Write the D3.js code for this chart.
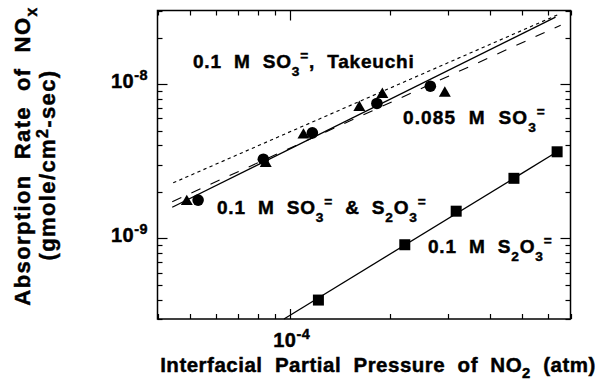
<!DOCTYPE html>
<html><head><meta charset="utf-8">
<script src="https://cdn.jsdelivr.net/npm/d3@7"></script>
<style>
body{margin:0;background:#fff}
svg{display:block}
text{font-family:"Liberation Sans",Arial,Helvetica,sans-serif;font-weight:bold;fill:#000;stroke:#000;stroke-width:0.45px;white-space:pre}
</style>
</head><body>
<svg id="chart" width="602" height="381"></svg>
<script>
// NOx absorption rate vs. interfacial NO2 partial pressure (log–log)

// 0.1 M sulfite + thiosulfate (circles)
const circleP    = [5.30e-5, 8.33e-5, 1.17e-4, 1.83e-4, 2.65e-4];
const circleRate = [1.77e-9, 3.26e-9, 4.83e-9, 7.49e-9, 9.69e-9];
// 0.085 M sulfite (triangles)
const triP    = [4.90e-5, 8.47e-5, 1.10e-4, 1.62e-4, 1.90e-4, 2.93e-4];
const triRate = [1.73e-9, 3.06e-9, 4.67e-9, 7.05e-9, 8.57e-9, 8.73e-9];
// 0.1 M thiosulfate (squares)
const squareP    = [1.22e-4, 2.22e-4, 3.17e-4, 4.73e-4, 6.38e-4];
const squareRate = [3.98e-10, 9.09e-10, 1.50e-9, 2.45e-9, 3.64e-9];

// correlation lines, end points as [pressure, rate]
const lineSulfiteThio = [[4.43e-5, 1.59e-9], [6.31e-4, 2.72e-8]];
const lineSulfite     = [[4.43e-5, 1.73e-9], [6.54e-4, 2.41e-8]];
const lineTakeuchi    = [[4.46e-5, 2.29e-9], [6.52e-4, 2.86e-8]];
const lineThio        = [[9.61e-5, 3.00e-10], [6.38e-4, 3.64e-9]];

const xDomain = [4e-5, 7e-4];
const yDomain = [3e-10, 3e-8];
const xTickExp = [-4];
const yTickExp = [-9, -8];

const svg = d3.select("#chart");
const L = 157.5, R = 570.5, T = 10.5, B = 319;
const x = d3.scaleLog().domain(xDomain).range([L, R]);
const y = d3.scaleLog().domain(yDomain).range([B, T]);

const isMajor = v => Math.abs(Math.log10(v) - Math.round(Math.log10(v))) < 1e-6;
const xTicks = x.ticks();
const yTicks = y.ticks();

// frame ticks, pointing inward on all four sides
const axG = svg.append("g").attr("stroke", "#000").attr("stroke-width", 1.2);
xTicks.forEach(v => {
  const len = isMajor(v) ? 10 : 5;
  const px = Math.round(x(v)) + 0.5;
  axG.append("line").attr("x1", px).attr("x2", px).attr("y1", B).attr("y2", B - len);
  axG.append("line").attr("x1", px).attr("x2", px).attr("y1", T).attr("y2", T + len);
});
yTicks.forEach(v => {
  const len = isMajor(v) ? 10 : 5;
  const py = Math.round(y(v)) + 0.5;
  axG.append("line").attr("y1", py).attr("y2", py).attr("x1", L).attr("x2", L + len);
  axG.append("line").attr("y1", py).attr("y2", py).attr("x1", R).attr("x2", R - len);
});
svg.append("rect").attr("x", L).attr("y", T).attr("width", R - L).attr("height", B - T)
  .attr("fill", "none").attr("stroke", "#000").attr("stroke-width", 1.5);

// text with sub/superscript parts
function rich(g, px, py, parts, size, anchor, spacing, shift) {
  const k = shift || 0.42;
  const t = g.append("text").attr("x", px).attr("y", py)
    .attr("font-size", size).attr("text-anchor", anchor || "start")
    .style("letter-spacing", (spacing || 0) + "px");
  let cur = 0;
  parts.forEach(p => {
    const [s, kind] = Array.isArray(p) ? p : [p, null];
    const off = kind === "sub" ? k * size : kind === "sup" ? -k * size : 0;
    t.append("tspan").attr("dy", off - cur).attr("font-size", kind ? size * 0.72 : size).text(s);
    cur = off;
  });
  return t;
}

// tick labels
xTickExp.forEach(e => {
  rich(svg, x(Math.pow(10, e)) + 2, 347, ["10", ["-" + Math.abs(e), "sup"]], 20, "middle", 0.5);
});
yTickExp.forEach(e => {
  rich(svg, 148, y(Math.pow(10, e)) + 4, ["10", ["-" + Math.abs(e), "sup"]], 20, "end", 0.5);
});

// axis titles
rich(svg, 378, 372, ["Interfacial  Partial  Pressure  of  NO", ["2", "sub"], "  (atm)"], 20.5, "middle", 0.5, 0.3);
const yt = svg.append("g");
rich(yt, 0, 0, ["Absorption  Rate  of  NO", ["x", "sub"]], 22, "middle", 1.4, 0.3)
  .attr("transform", "translate(30,156) rotate(-90)");
rich(yt, 0, 0, ["(gmole/cm", ["2", "sup"], "-sec)"], 22, "middle", 1.4, 0.3)
  .attr("transform", "translate(55,165) rotate(-90)");

// correlation lines
const line = d3.line().x(d => x(d[0])).y(d => y(d[1]));
const lg = svg.append("g").attr("fill", "none").attr("stroke", "#000");
lg.append("path").datum(lineTakeuchi).attr("d", line).attr("stroke-width", 1.1).attr("stroke-dasharray", "3.3,3.3");
lg.append("path").datum(lineSulfite).attr("d", line).attr("stroke-width", 1.1).attr("stroke-dasharray", "10,11");
lg.append("path").datum(lineSulfiteThio).attr("d", line).attr("stroke-width", 1.3);
lg.append("path").datum(lineThio).attr("d", line).attr("stroke-width", 1.3);

// markers
const mg = svg.append("g").attr("fill", "#000");
mg.selectAll("circle").data(d3.zip(circleP, circleRate)).join("circle")
  .attr("cx", d => x(d[0])).attr("cy", d => y(d[1])).attr("r", 5.8);
const tri = d3.symbol().type(d3.symbolTriangle).size(62);
mg.selectAll("path.tri").data(d3.zip(triP, triRate)).join("path").attr("class", "tri")
  .attr("d", tri).attr("transform", d => `translate(${x(d[0])},${y(d[1])})`);
mg.selectAll("rect.sq").data(d3.zip(squareP, squareRate)).join("rect").attr("class", "sq")
  .attr("x", d => x(d[0]) - 5.5).attr("y", d => y(d[1]) - 5.5).attr("width", 11).attr("height", 11);

// series labels
const lab = svg.append("g");
rich(lab, 193, 68, ["0.1  M  SO", ["3", "sub"], ["=", "sup"], ",  Takeuchi"], 19, "start", 0.8);
rich(lab, 403, 124, ["0.085  M  SO", ["3", "sub"], ["=", "sup"]], 19, "start", 1.1);
rich(lab, 217, 214, ["0.1  M  SO", ["3", "sub"], ["=", "sup"], "  &  S", ["2", "sub"], "O", ["3", "sub"], ["=", "sup"]], 19, "start", 0.8);
rich(lab, 428, 253, ["0.1  M  S", ["2", "sub"], "O", ["3", "sub"], ["=", "sup"]], 19, "start", 0.8);
</script>
</body></html>
